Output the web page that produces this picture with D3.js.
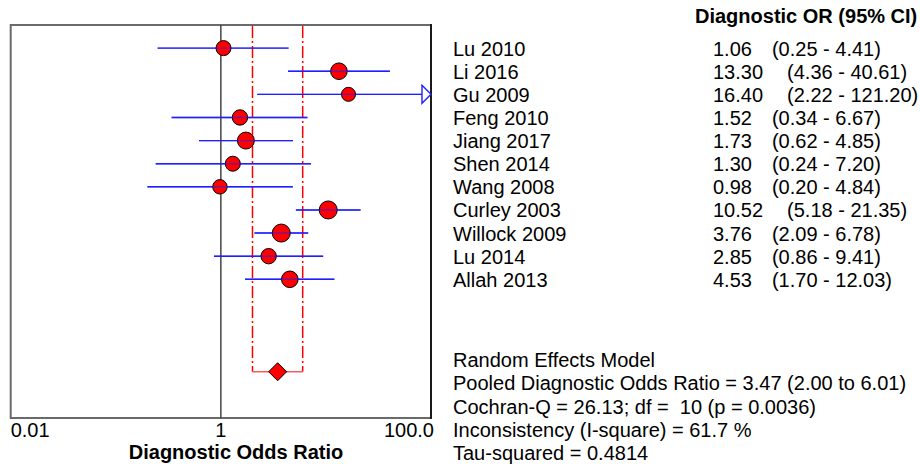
<!DOCTYPE html>
<html><head><meta charset="utf-8">
<script src="https://cdn.jsdelivr.net/npm/d3@7/dist/d3.min.js"></script>
<style>
html,body{margin:0;padding:0;background:#fff;}
svg{display:block;font-family:"Liberation Sans",Arial,sans-serif;}
</style></head>
<body><svg id="chart" width="920" height="468"></svg>
<script>
const studies = ["Lu 2010","Li 2016","Gu 2009","Feng 2010","Jiang 2017","Shen 2014","Wang 2008","Curley 2003","Willock 2009","Lu 2014","Allah 2013"];
const orValues = [1.06, 13.30, 16.40, 1.52, 1.73, 1.30, 0.98, 10.52, 3.76, 2.85, 4.53];
const ciLower = [0.25, 4.36, 2.22, 0.34, 0.62, 0.24, 0.20, 5.18, 2.09, 0.86, 1.70];
const ciUpper = [4.41, 40.61, 121.20, 6.67, 4.85, 7.20, 4.84, 21.35, 6.78, 9.41, 12.03];
const weights = [8.0, 9.8, 7.0, 8.4, 10.2, 8.0, 7.4, 11.5, 11.5, 8.4, 9.8];
const pooled = {or: 3.47, lower: 2.00, upper: 6.01};
const xTickValues = [0.01, 1, 100];
const xTickLabels = ["0.01", "1", "100.0"];
const headerText = "Diagnostic OR (95% CI)";
const axisTitle = "Diagnostic Odds Ratio";
const statsLines = [
  "Random Effects Model",
  "Pooled Diagnostic Odds Ratio = 3.47 (2.00 to 6.01)",
  "Cochran-Q = 26.13; df =  10 (p = 0.0036)",
  "Inconsistency (I-square) = 61.7 %",
  "Tau-squared = 0.4814"
];

const svg = d3.select("#chart");
const L = 10.7, R = 431, T = 25, B = 418;
const x = d3.scaleLog().domain([0.01, 100]).range([L, R]);
const y = d3.scaleLinear().domain([-1, 16]).range([T, B]);
const r = d3.scaleSqrt().domain([0, 11.5]).range([0, 9]);
const pooledRow = 14;
const fmt = d3.format(".2f");

// plot frame
svg.append("rect").attr("x", L).attr("y", T).attr("width", R - L).attr("height", B - T)
  .attr("fill", "none").attr("stroke", "#6a6a6a").attr("stroke-width", 2);
svg.append("line").attr("x1", R).attr("x2", R).attr("y1", T - 1).attr("y2", B + 1)
  .attr("stroke", "#000").attr("stroke-width", 1.5);

// line of no effect
svg.append("line").attr("x1", x(1)).attr("x2", x(1)).attr("y1", T).attr("y2", B)
  .attr("stroke", "#444").attr("stroke-width", 1.5);

// pooled CI dashed lines
[pooled.lower, pooled.upper].forEach(v => {
  svg.append("line").attr("x1", x(v)).attr("x2", x(v)).attr("y1", T + 1).attr("y2", y(pooledRow))
    .attr("stroke", "#ff0000").attr("stroke-width", 1.5).attr("stroke-dasharray", "12,3,2,3");
});
svg.append("line").attr("x1", x(pooled.lower)).attr("x2", x(pooled.upper))
  .attr("y1", y(pooledRow)).attr("y2", y(pooledRow))
  .attr("stroke", "#ff5a5a").attr("stroke-width", 1.5);

// CI lines
const maxX = x.domain()[1];
const g = svg.append("g");
studies.forEach((s, i) => {
  const yy = y(i);
  const clipped = ciUpper[i] > maxX;
  const x2 = clipped ? R - 9 : x(ciUpper[i]);
  g.append("line").attr("x1", x(ciLower[i])).attr("x2", x2).attr("y1", yy).attr("y2", yy)
    .attr("stroke", "#1f1fff").attr("stroke-width", 1.4);
  if (clipped) {
    g.append("path")
      .attr("d", `M${R - 9},${yy - 9}L${R},${yy}L${R - 9},${yy + 9}Z`)
      .attr("fill", "#fff").attr("stroke", "#1f1fff").attr("stroke-width", 1.4);
  }
});
// points
studies.forEach((s, i) => {
  g.append("circle").attr("cx", x(orValues[i])).attr("cy", y(i)).attr("r", r(weights[i]))
    .attr("fill", "#ff0000").attr("stroke", "#000").attr("stroke-width", 1);
});
// CI line drawn faintly through circles
studies.forEach((s, i) => {
  const yy = y(i);
  const clipped = ciUpper[i] > maxX;
  const x2 = clipped ? R - 9 : x(ciUpper[i]);
  g.append("line").attr("x1", x(ciLower[i])).attr("x2", x2).attr("y1", yy).attr("y2", yy)
    .attr("stroke", "#1f1fff").attr("stroke-width", 1.4).attr("stroke-opacity", 0.55);
});

// pooled diamond
const dx = 9, dy = 9, pc = x(pooled.or), py = y(pooledRow);
svg.append("path").attr("d", `M${pc - dx},${py}L${pc},${py - dy}L${pc + dx},${py}L${pc},${py + dy}Z`)
  .attr("fill", "#ff0000").attr("stroke", "#000").attr("stroke-width", 1);

// x axis labels
const anchors = ["start", "middle", "end"];
xTickValues.forEach((v, i) => {
  let xx = x(v);
  if (i === 0) xx = L;
  if (i === 2) xx = R + 3;
  svg.append("text").attr("x", xx).attr("y", 437).attr("text-anchor", anchors[i])
    .attr("font-size", 20).attr("fill", "#000").text(xTickLabels[i]);
});
svg.append("text").attr("x", 236).attr("y", 459).attr("text-anchor", "middle")
  .attr("font-size", 20).attr("font-weight", "bold").text(axisTitle);

// header
svg.append("text").attr("x", 695).attr("y", 23).attr("font-size", 20).attr("font-weight", "bold").text(headerText);

// study rows text
studies.forEach((s, i) => {
  const yy = y(i) + 7.5;
  const orStr = fmt(orValues[i]);
  svg.append("text").attr("x", 453).attr("y", yy).attr("font-size", 20).text(s);
  const t = svg.append("text").attr("x", 713).attr("y", yy).attr("font-size", 20);
  t.append("tspan").text(orStr);
  t.append("tspan").attr("dx", 20 + (orStr.length - 4) * 4).text(`(${fmt(ciLower[i])} - ${fmt(ciUpper[i])})`);
});

// stats
statsLines.forEach((line, i) => {
  svg.append("text").attr("x", 453).attr("y", 367 + i * 23.3).attr("font-size", 20)
    .style("white-space", "pre").text(line);
});
</script></body></html>
